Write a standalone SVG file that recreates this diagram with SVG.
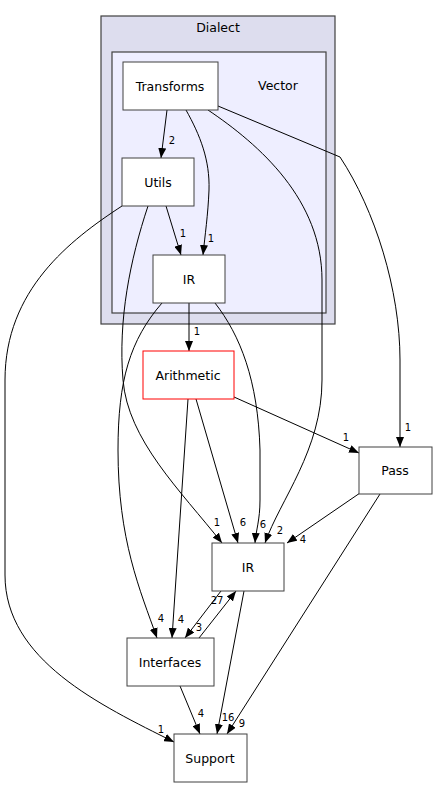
<svg xmlns="http://www.w3.org/2000/svg" width="437" height="788" viewBox="0 0 437 788">
<style>
text{font-family:"DejaVu Sans","Liberation Sans",sans-serif;font-size:10px;fill:#000;text-anchor:middle}
.lb{font-size:12.5px}
.n{fill:#fff;stroke:#404040;stroke-width:1}
.e{fill:none;stroke:#000;stroke-width:1;marker-end:url(#ah)}
</style>
<defs>
<marker id="ah" markerUnits="userSpaceOnUse" markerWidth="10" markerHeight="8" refX="10" refY="4" orient="auto">
<path d="M0,0 L10,4 L0,8 z" fill="#000"/>
</marker>
</defs>
<rect width="437" height="788" fill="#fff"/>
<g id="cluster_dialect">
<rect x="101" y="16" width="234" height="308" fill="#ddddee" stroke="#404040" stroke-width="1.2"/>
<text class="lb" x="218" y="31.5">Dialect</text>
</g>
<g id="cluster_vector">
<rect x="112" y="52" width="214" height="261" fill="#eeeeff" stroke="#404040" stroke-width="1.2"/>
<text class="lb" x="278" y="90">Vector</text>
</g>
<g id="connectors">
<path class="e" d="M167,110 L161,158"/>
<path class="e" d="M186,110 C200,135 210,160 209,190 C208,215 205,235 203,255"/>
<path class="e" d="M208,110 C260,145 322,200 322,280 L322,380 C322,450 280,500 265,543"/>
<path class="e" d="M218,106 L340,157 C375,210 400,290 400,360 L400,447"/>
<path class="e" d="M166,206 L181,255"/>
<path class="e" d="M122,206 C70,240 5,290 5,380 L5,575 C5,660 100,705 174,742"/>
<path class="e" d="M148,206 C130,260 118,320 123,380 C128,440 180,490 222,543"/>
<path class="e" d="M189,303 L189,351"/>
<path class="e" d="M162,303 C130,340 118,380 118,450 C118,540 140,590 157,638"/>
<path class="e" d="M215,303 C240,335 258,380 260,450 L260,500 C260,520 256,530 255,543"/>
<path class="e" d="M196,399 L238,543"/>
<path class="e" d="M188,399 L172,638"/>
<path class="e" d="M234,397 L359,453"/>
<path class="e" d="M360,493 L287,543"/>
<path class="e" d="M380,494 L227,734"/>
<path class="e" d="M221,591 L185,638"/>
<path class="e" d="M199,638 L236,591"/>
<path class="e" d="M244,591 L217,734"/>
<path class="e" d="M180,686 L200,734"/>
<text x="172" y="144">2</text>
<text x="211" y="242">1</text>
<text x="183" y="237">1</text>
<text x="197" y="335">1</text>
<text x="217" y="526">1</text>
<text x="243" y="526">6</text>
<text x="263" y="528">6</text>
<text x="280" y="534">2</text>
<text x="303" y="543">4</text>
<text x="346" y="441">1</text>
<text x="408" y="431">1</text>
<text x="161" y="622">4</text>
<text x="181" y="623">4</text>
<text x="199" y="631">3</text>
<text x="217" y="604">27</text>
<text x="201" y="717">4</text>
<text x="228" y="721">16</text>
<text x="242" y="727">9</text>
<text x="161" y="733">1</text>
</g>
<g id="node_transforms"><rect class="n" x="123" y="62" width="95" height="48"/><text class="lb" x="170" y="90.5">Transforms</text></g>
<g id="node_utils"><rect class="n" x="122" y="158" width="72" height="48"/><text class="lb" x="158" y="186.5">Utils</text></g>
<g id="node_vector_ir"><rect class="n" x="153" y="255" width="72" height="48"/><text class="lb" x="189" y="283.5">IR</text></g>
<g id="node_arithmetic"><rect x="143" y="351" width="91" height="48" fill="#fff" stroke="#ff0000"/><text class="lb" x="188" y="379.5">Arithmetic</text></g>
<g id="node_ir"><rect class="n" x="212" y="543" width="72" height="48"/><text class="lb" x="248" y="571.5">IR</text></g>
<g id="node_pass"><rect class="n" x="359" y="447" width="73" height="47"/><text class="lb" x="395" y="475">Pass</text></g>
<g id="node_interfaces"><rect class="n" x="127" y="638" width="87" height="48"/><text class="lb" x="170" y="666.5">Interfaces</text></g>
<g id="node_support"><rect class="n" x="174" y="734" width="73" height="48"/><text class="lb" x="210" y="762.5">Support</text></g>
</svg>
